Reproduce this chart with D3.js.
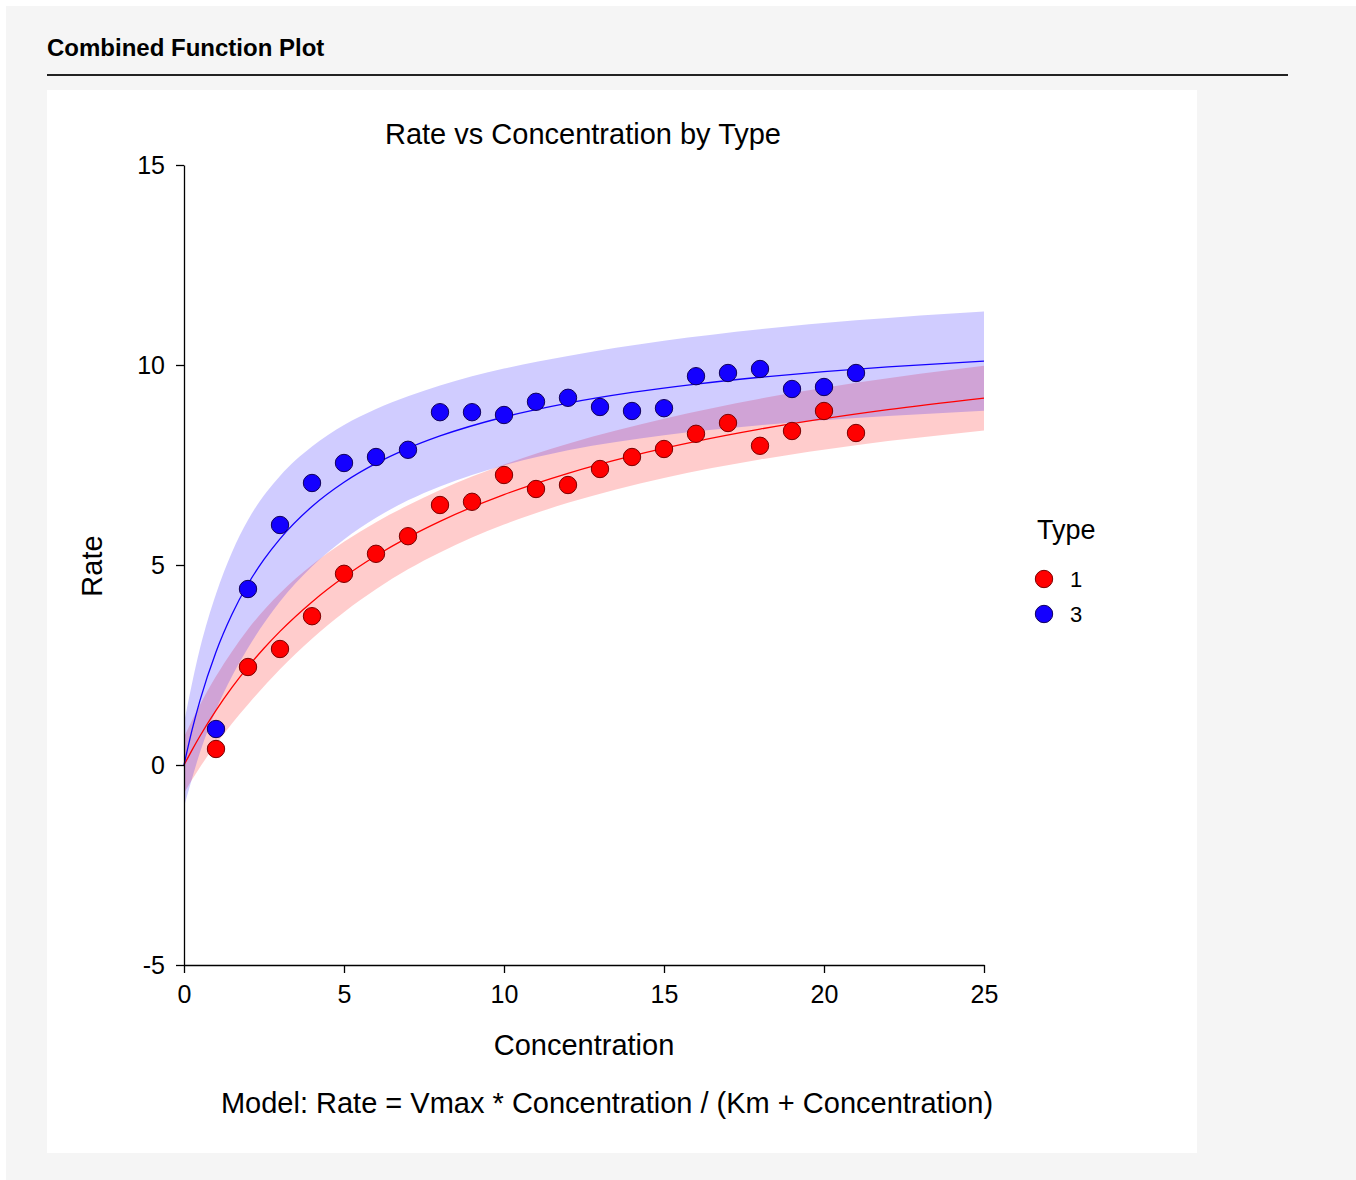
<!DOCTYPE html>
<html>
<head>
<meta charset="utf-8">
<script src="https://cdn.jsdelivr.net/npm/d3@7"></script>
<style>
  body { margin: 0; background: #fff; font-family: "Liberation Sans", Arial, sans-serif; }
  .axis text { font-family: "Liberation Sans", Arial, sans-serif; font-size: 25px; fill: #000; }
  .axis path, .axis line { stroke: #000; stroke-width: 1.3; }
</style>
</head>
<body>
<script>
// concentration values of the observations
var concentration = [1, 2, 3, 4, 5, 6, 7, 8, 9, 10, 11, 12, 13, 14, 15, 16, 17, 18, 19, 20, 21];
// observed rates, type 1 (red) and type 3 (blue)
var rateType1 = [0.4, 2.45, 2.9, 3.72, 4.78, 5.28, 5.72, 6.5, 6.58, 7.25, 6.9, 7.0, 7.4, 7.7, 7.9, 8.28, 8.55, 7.98, 8.35, 8.85, 8.3];
var rateType3 = [0.9, 4.4, 6.0, 7.05, 7.55, 7.7, 7.88, 8.82, 8.82, 8.75, 9.08, 9.18, 8.95, 8.85, 8.92, 9.72, 9.8, 9.9, 9.4, 9.45, 9.8];

// fitted model parameters, Rate = Vmax * Concentration / (Km + Concentration)
var vmaxType1 = 12.04, kmType1 = 7.81;
var vmaxType3 = 11.31, kmType3 = 3.0;

// x positions where the band half widths were read
var bandX = [0, 0.5, 1, 1.5, 2, 3, 4, 5, 6, 7, 8, 10, 12, 15, 18, 21, 25];
var bandType1 = [0.7, 0.78, 0.85, 0.9, 0.94, 0.95, 0.92, 0.88, 0.84, 0.8, 0.78, 0.75, 0.74, 0.74, 0.76, 0.78, 0.81];
var bandType3 = [1.05, 1.3, 1.45, 1.55, 1.6, 1.57, 1.5, 1.43, 1.36, 1.3, 1.26, 1.21, 1.18, 1.18, 1.2, 1.22, 1.24];
var curveX = [0, 0.25, 0.5, 1, 1.5, 2, 2.5, 3, 4, 5, 6, 7, 8, 10, 12, 14, 16, 18, 20, 22, 25];

var xTicks = [0, 5, 10, 15, 20, 25];
var yTicks = [-5, 0, 5, 10, 15];
var legendLabels = ["1", "3"];

var colRed = "#ff0000", colBlue = "#1400ff";

var svg = d3.select("body").append("svg")
    .attr("width", 1356)
    .attr("height", 1180);

// page panels
svg.append("rect").attr("x", 6).attr("y", 6).attr("width", 1350).attr("height", 1174).attr("fill", "#f5f5f5");
svg.append("text").attr("x", 47).attr("y", 56)
    .style("font-size", "24px").style("font-weight", "bold").text("Combined Function Plot");
svg.append("line").attr("x1", 47).attr("x2", 1288).attr("y1", 75).attr("y2", 75)
    .attr("stroke", "#222").attr("stroke-width", 2.2);
svg.append("rect").attr("x", 47).attr("y", 90).attr("width", 1150).attr("height", 1063).attr("fill", "#fff");

var x = d3.scaleLinear().domain([0, 25]).range([184, 984]);
var y = d3.scaleLinear().domain([-5, 15]).range([965, 165]);

function mm(vmax, km) {
  return function (c) { return vmax * c / (km + c); };
}
var f1 = mm(vmaxType1, kmType1), f3 = mm(vmaxType3, kmType3);

var area = d3.area()
    .x(function (d) { return x(d.c); })
    .y0(function (d) { return y(d.lo); })
    .y1(function (d) { return y(d.hi); })
    .curve(d3.curveMonotoneX);

function bandData(f, hw) {
  return bandX.map(function (c, i) { return { c: c, lo: f(c) - hw[i], hi: f(c) + hw[i] }; });
}

svg.append("path").datum(bandData(f1, bandType1)).attr("d", area)
    .attr("fill", colRed).attr("fill-opacity", 0.2);
svg.append("path").datum(bandData(f3, bandType3)).attr("d", area)
    .attr("fill", colBlue).attr("fill-opacity", 0.2);

var line = d3.line()
    .x(function (d) { return x(d.c); })
    .y(function (d) { return y(d.v); })
    .curve(d3.curveMonotoneX);

svg.append("path").datum(curveX.map(function (c) { return { c: c, v: f1(c) }; }))
    .attr("d", line).attr("fill", "none").attr("stroke", colRed).attr("stroke-width", 1.3);
svg.append("path").datum(curveX.map(function (c) { return { c: c, v: f3(c) }; }))
    .attr("d", line).attr("fill", "none").attr("stroke", colBlue).attr("stroke-width", 1.3);

// axes
svg.append("g").attr("class", "axis")
    .attr("transform", "translate(0,965)")
    .call(d3.axisBottom(x).tickValues(xTicks).tickSize(8).tickSizeOuter(0).tickPadding(12));
svg.append("g").attr("class", "axis")
    .attr("transform", "translate(184,0)")
    .call(d3.axisLeft(y).tickValues(yTicks).tickSize(8).tickSizeOuter(0).tickPadding(11)
      .tickFormat(function (d) { return String(d); }));

// points
function drawPoints(vals, fill, stroke) {
  svg.append("g").selectAll("circle")
    .data(vals)
    .enter().append("circle")
    .attr("cx", function (d, i) { return x(concentration[i]); })
    .attr("cy", function (d) { return y(d); })
    .attr("r", 8.7)
    .attr("fill", fill)
    .attr("stroke", stroke)
    .attr("stroke-width", 1);
}
drawPoints(rateType1, colRed, "#7a0000");
drawPoints(rateType3, colBlue, "#10005a");

// titles
svg.append("text").attr("x", 583).attr("y", 144).attr("text-anchor", "middle")
    .style("font-size", "29px").text("Rate vs Concentration by Type");
svg.append("text").attr("x", 584).attr("y", 1055).attr("text-anchor", "middle")
    .style("font-size", "29px").text("Concentration");
svg.append("text").attr("transform", "translate(102,566) rotate(-90)").attr("text-anchor", "middle")
    .style("font-size", "29px").text("Rate");
svg.append("text").attr("x", 607).attr("y", 1113).attr("text-anchor", "middle")
    .style("font-size", "29px").text("Model: Rate = Vmax * Concentration / (Km + Concentration)");

// legend
svg.append("text").attr("x", 1037).attr("y", 539).style("font-size", "27px").text("Type");
var leg = svg.append("g").selectAll("g").data(legendLabels).enter().append("g")
    .attr("transform", function (d, i) { return "translate(1044," + (579 + i * 35) + ")"; });
leg.append("circle").attr("r", 8.7)
    .attr("fill", function (d, i) { return i === 0 ? colRed : colBlue; })
    .attr("stroke", function (d, i) { return i === 0 ? "#7a0000" : "#10005a"; });
leg.append("text").attr("x", 26).attr("y", 8).style("font-size", "22px").text(function (d) { return d; });
</script>
</body>
</html>
